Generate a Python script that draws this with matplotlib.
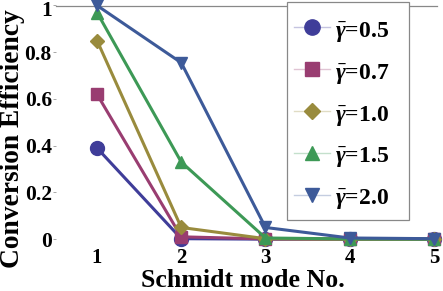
import matplotlib
matplotlib.use("Agg")
import matplotlib.pyplot as plt
import matplotlib.transforms as mtransforms
from matplotlib.lines import Line2D
from matplotlib.patches import Rectangle
from matplotlib.colors import to_rgba

plt.rcParams['font.family'] = ['Liberation Serif', 'DejaVu Serif']
plt.rcParams['font.weight'] = 'bold'
plt.rcParams['mathtext.fontset'] = 'custom'
plt.rcParams['mathtext.it'] = 'Liberation Serif:italic:bold'
plt.rcParams['mathtext.rm'] = 'Liberation Serif:bold'

modes = [1, 2, 3, 4, 5]
labels = ["0.5", "0.7", "1.0", "1.5", "2.0"]
eff_05 = [0.39, 0.002, 0.0, 0.0, 0.0]
eff_07 = [0.62, 0.010, 0.001, 0.0, 0.0]
eff_10 = [0.85, 0.050, 0.002, 0.0, 0.0]
eff_15 = [0.97, 0.330, 0.005, 0.001, 0.0]
eff_20 = [1.00, 0.755, 0.050, 0.005, 0.002]
series = [eff_05, eff_07, eff_10, eff_15, eff_20]
colors = ['#3F3D99', '#993D71', '#998B3D', '#3D9956', '#3D5A99']
markers = ['o', 's', 'D', '^', 'v']
msizes = [10, 9, 7.5, 9, 9]

W, H = 443, 291
fig = plt.figure(figsize=(W / 100, H / 100), dpi=100)
left, right, top, bottom = 56, 437, 5.5, 245
ax = fig.add_axes([left / W, 1 - bottom / H, (right - left) / W, (bottom - top) / H])
ax.set_xlim(0.513, 5.036)
ax.set_ylim(-0.025, 1.0)

for vals, c, m, ms in zip(series, colors, markers, msizes):
    ax.plot(modes, vals, color=c, lw=2.2, marker=m, ms=ms, clip_on=False, zorder=3)

for s in ['left', 'right', 'bottom']:
    ax.spines[s].set_visible(False)
ax.spines['top'].set_color('#888888')
ax.spines['top'].set_linewidth(0.9)

ax.set_xticks(modes)
ax.set_xticklabels([str(m) for m in modes])
ax.set_yticks([0, 0.2, 0.4, 0.6, 0.8, 1.0])
ax.set_yticklabels(['0', '0.2', '0.4', '0.6', '0.8', '1'])
ax.tick_params(axis='x', length=0, pad=2, labelsize=15)
ax.tick_params(axis='y', length=2, width=0.6, color='#999999', pad=1, labelsize=15.5)

# nudge the top "1" label down slightly so it stays inside the canvas
top_lbl = ax.get_yticklabels()[-1]
top_lbl.set_transform(top_lbl.get_transform() +
                      mtransforms.ScaledTranslation(0, -2.5 / 72, fig.dpi_scale_trans))

fig.text(242.5 / W, 1 - 287 / H, 'Schmidt mode No.', fontsize=18.6, fontweight='bold',
         ha='center', va='baseline')
fig.text(13 / W, 1 - 139 / H, 'Conversion Efficiency', fontsize=19.8, fontweight='bold',
         ha='center', va='center', rotation=90)

# legend frame
frame = Rectangle((287 / W, 1 - 220 / H), (409 - 287) / W, (220 - 2) / H,
                  transform=fig.transFigure, facecolor='white', edgecolor='#888888',
                  lw=0.9, zorder=5)
fig.add_artist(frame)

handles = []
for c, m, ms in zip(colors, markers, msizes):
    handles.append(Line2D([], [], color=to_rgba(c, 0.3), lw=1, marker=m, ms=ms + 1,
                          markerfacecolor=c, markeredgecolor=c))
leg = fig.legend(handles, [r'$\bar{\gamma}$=' + l for l in labels],
                 loc='upper left', bbox_to_anchor=(294 / W, 1 - 16.5 / H),
                 borderaxespad=0, frameon=False,
                 fontsize=17, labelspacing=0.565, handlelength=1.53, handletextpad=0.21,
                 handleheight=1.4, borderpad=0)
leg.set_zorder(6)

fig.savefig('out.png', dpi=100)
